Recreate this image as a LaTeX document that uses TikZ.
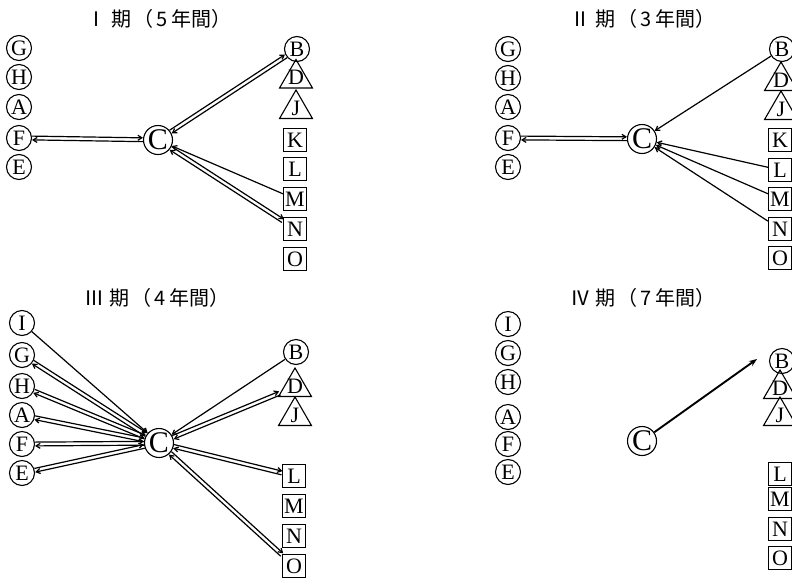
\documentclass[tikz,border=0pt]{standalone}
\usepackage{fontspec}
\newfontfamily\jp{Noto Sans CJK JP}
\newfontfamily\ltr{Liberation Serif}
\usetikzlibrary{calc,shapes.geometric,arrows.meta}
\tikzset{
  lett/.style={font=\ltr\fontsize{22}{22}\selectfont},
  circ/.style={circle,draw,line width=1.1pt,inner sep=0pt,minimum size=25pt,lett},
  bigc/.style={circle,draw,line width=1.1pt,inner sep=0pt,minimum size=29pt,font=\ltr\fontsize{30}{30}\selectfont},
  sq/.style={rectangle,draw,line width=1.1pt,inner sep=0pt,minimum size=23pt,lett},
  tri/.style={regular polygon,regular polygon sides=3,draw,line width=1.1pt,inner sep=0pt,minimum size=38pt},
  ttl/.style={font=\jp\fontsize{20}{20}\selectfont},
  arr/.style={line width=1.2pt,-{Straight Barb[length=4pt,width=5pt]}},
  sarr/.style={line width=1.2pt,-{Straight Barb[length=4pt,width=5pt]}},
  boldarr/.style={line width=1.9pt,-{Stealth[length=8pt,width=6pt]}}
}
\newcommand\twoway[2]{%
  \draw[arr] let \p1=($(#2)-(#1)$), \n1={atan2(\y1,\x1)}, \n2={\n1+180} in
    ([shift={(\n1+90:1.9pt)}]#1.\n1) -- ([shift={(\n1+90:1.9pt)}]#2.\n2);
  \draw[arr] let \p1=($(#2)-(#1)$), \n1={atan2(\y1,\x1)}, \n2={\n1+180} in
    ([shift={(\n1-90:1.9pt)}]#2.\n2) -- ([shift={(\n1-90:1.9pt)}]#1.\n1);
}
\newcommand\ttltext[2]{#1\hspace{5pt}期\hspace{2pt}（\hspace{3pt}#2\hspace{3pt}年間）}
\begin{document}
\begin{tikzpicture}[x=1pt,y=-1pt]
\useasboundingbox[fill=white] (0,0) rectangle (792,579);
% ---------- Panel I ----------
\node[ttl] (T1) at (159,19) {\ttltext{Ⅰ}{5}};
\node[circ] (G1) at (19,48) {G};
\node[circ] (H1) at (19,77) {H};
\node[circ] (A1) at (19,107) {A};
\node[circ] (F1) at (19,138) {F};
\node[circ] (E1) at (19,167) {E};
\node[bigc] (C1) at (158,140) {C};
\node[circ] (B1) at (297,49) {B};
\node[tri,label={[lett,yshift=1pt]center:D}] (D1) at (296,78.5) {};
\node[tri,label={[lett,yshift=1pt]center:J}] (J1) at (296,109) {};
\node[sq] (K1) at (295,140) {K};
\node[sq] (L1) at (295,169) {L};
\node[sq] (M1) at (295,199) {M};
\node[sq] (N1) at (295,229) {N};
\node[sq] (O1) at (295,259) {O};
\twoway{F1}{C1}
\twoway{C1}{B1}
\twoway{C1}{N1}
\draw[sarr] (M1) -- (C1);
% ---------- Panel II ----------
\node[ttl] (T2) at (643,19) {\ttltext{Ⅱ}{3}};
\node[circ] (G2) at (508,49) {G};
\node[circ] (H2) at (508,78) {H};
\node[circ] (A2) at (508,107) {A};
\node[circ] (F2) at (508,138) {F};
\node[circ] (E2) at (508,167) {E};
\node[bigc] (C2) at (642,139) {C};
\node[circ] (B2) at (782,49) {B};
\node[tri,label={[lett,yshift=1pt]center:D}] (D2) at (781,81) {};
\node[tri,label={[lett,yshift=1pt]center:J}] (J2) at (781,110) {};
\node[sq] (K2) at (780,140) {K};
\node[sq] (L2) at (780,170) {L};
\node[sq] (M2) at (780,199) {M};
\node[sq] (N2) at (780,229) {N};
\node[sq] (O2) at (780,258) {O};
\twoway{F2}{C2}
\draw[sarr] (B2) -- (C2);
\draw[sarr] (L2) -- (C2);
\draw[sarr] (M2) -- (C2);
\draw[sarr] (N2) -- (C2);
% ---------- Panel III ----------
\node[ttl] (T3) at (157,298) {\ttltext{Ⅲ}{4}};
\node[circ] (I3) at (22,323) {I};
\node[circ] (G3) at (22,355) {G};
\node[circ] (H3) at (22,386) {H};
\node[circ] (A3) at (22,415) {A};
\node[circ] (F3) at (22,444) {F};
\node[circ] (E3) at (22,473) {E};
\node[bigc] (C3) at (159,443) {C};
\node[circ] (B3) at (296,352) {B};
\node[tri,label={[lett,yshift=1pt]center:D}] (D3) at (295,387) {};
\node[tri,label={[lett,yshift=1pt]center:J}] (J3) at (295,416) {};
\node[sq] (L3) at (294,476) {L};
\node[sq] (M3) at (294,506) {M};
\node[sq] (N3) at (294,536) {N};
\node[sq] (O3) at (294,566) {O};
\draw[sarr] (I3) -- (C3);
\twoway{C3}{G3}
\twoway{C3}{H3}
\twoway{C3}{A3}
\twoway{C3}{F3}
\twoway{C3}{E3}
\draw[sarr] (B3) -- (C3);
\twoway{C3}{D3}
\twoway{C3}{L3}
\twoway{C3}{O3}
% ---------- Panel IV ----------
\node[ttl] (T4) at (643,298) {\ttltext{Ⅳ}{7}};
\node[circ] (I4) at (508,324) {I};
\node[circ] (G4) at (508,353) {G};
\node[circ] (H4) at (508,382) {H};
\node[circ] (A4) at (508,417) {A};
\node[circ] (F4) at (508,444) {F};
\node[circ] (E4) at (508,472) {E};
\node[bigc] (C4) at (642,441) {C};
\node[circ] (B4) at (782,361) {B};
\node[tri,label={[lett,yshift=1pt]center:D}] (D4) at (780,389) {};
\node[tri,label={[lett,yshift=1pt]center:J}] (J4) at (780,416) {};
\node[sq] (L4) at (780,474) {L};
\node[sq] (M4) at (780,499) {M};
\node[sq] (N4) at (780,529) {N};
\node[sq] (O4) at (780,558) {O};
\coordinate (X4) at (757,359);
\draw[boldarr] (C4) -- (X4);
\end{tikzpicture}
\end{document}
